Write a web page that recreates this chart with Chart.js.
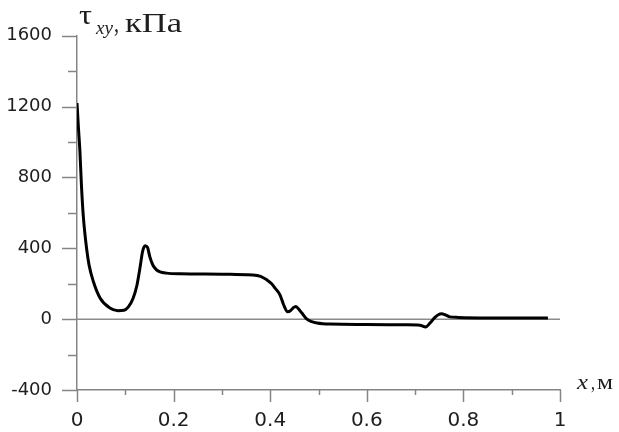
<!DOCTYPE html>
<html>
<head>
<meta charset="utf-8">
<script src="https://cdn.jsdelivr.net/npm/chart.js@4.4.1/dist/chart.umd.min.js"></script>
<style>
  html, body { margin: 0; padding: 0; background: #fff; }
  #wrap { width: 619px; height: 432px; }
</style>
</head>
<body>
<div id="wrap"><canvas id="graficoTau" width="619" height="432"></canvas></div>
<script>
// x, m
var xs = [0, 0.003, 0.006, 0.009, 0.013, 0.020, 0.025, 0.034, 0.048, 0.068, 0.085, 0.097, 0.106,
          0.116, 0.124, 0.130, 0.136, 0.141, 0.146, 0.151, 0.157, 0.164, 0.172, 0.185, 0.213,
          0.26, 0.30, 0.33, 0.35, 0.364, 0.380, 0.393, 0.403, 0.410, 0.420, 0.428, 0.436, 0.442,
          0.448, 0.453, 0.458, 0.466, 0.476, 0.486, 0.497, 0.524, 0.60, 0.68, 0.71, 0.722, 0.731,
          0.741, 0.748, 0.755, 0.762, 0.772, 0.789, 0.85, 0.975];
// tau_xy, kPa
var tau = [1220, 1080, 950, 767, 583, 396, 305, 211, 118, 63, 48, 50, 68,
           117, 190, 283, 385, 415, 405, 350, 306, 280, 267, 260, 256,
           255, 254, 252, 251, 250, 242, 222, 200, 175, 139, 80, 42, 48,
           65, 72, 60, 33, 0, -14, -22, -28, -30, -32, -34, -44, -22,
           10, 25, 30, 25, 13, 10, 7, 6];

var xMin = 0, xMax = 1, xStep = 0.1;
var yMin = -400, yMax = 1600, yStep = 200;

var puntos = xs.map(function (x, i) { return { x: x, y: tau[i] }; });
var cero = [{ x: xMin, y: 0 }, { x: xMax, y: 0 }];

var gris = '#858585';
var texto = '#1e1e1e';

// text stretched to a given width (the original labels are wide)
function textoAncho(ctx, str, x, y, font, w) {
    ctx.save();
    ctx.font = font;
    var m = ctx.measureText(str).width;
    ctx.translate(x, y);
    ctx.scale(w / m, 1);
    ctx.textAlign = 'left';
    ctx.textBaseline = 'alphabetic';
    ctx.fillStyle = texto;
    ctx.fillText(str, 0, 0);
    ctx.restore();
}

var marcas = {
    id: 'marcas',
    afterDraw: function (chart) {
        var c = chart.ctx;
        var sx = chart.scales.x, sy = chart.scales.y;
        var a = chart.chartArea;
        c.save();
        c.strokeStyle = gris;
        c.lineWidth = 1.5;
        sx.ticks.forEach(function (t) {
            var px = Math.round(sx.getPixelForValue(t.value)) + 0.5;
            var mayor = Math.round(t.value * 10) % 2 === 0;
            c.beginPath();
            c.moveTo(px, a.bottom);
            c.lineTo(px, a.bottom + (mayor ? 12 : 5));
            c.stroke();
        });
        sy.ticks.forEach(function (t) {
            var py = Math.round(sy.getPixelForValue(t.value)) + 0.5;
            var mayor = Math.round(t.value / 200) % 2 === 0;
            c.beginPath();
            c.moveTo(a.left, py);
            c.lineTo(a.left - (mayor ? 15 : 9), py);
            c.stroke();
        });
        c.restore();

        // titulos de ejes
        textoAncho(c, '\u03C4', 79, 24, '28px "Liberation Serif"', 13);
        textoAncho(c, 'xy', 96, 34, 'italic 19px "Liberation Serif"', 17);
        textoAncho(c, ',', 114, 32, '27px "Liberation Serif"', 5);
        textoAncho(c, '\u043A\u041F\u0430', 125, 32, '27px "Liberation Serif"', 57);

        textoAncho(c, 'x', 577, 389, 'italic 21px "Liberation Serif"', 11);
        textoAncho(c, ',', 591, 389, '21px "Liberation Serif"', 4);
        textoAncho(c, '\u043C', 597, 389, '21px "Liberation Serif"', 16);
    }
};

var ctxT = document.getElementById('graficoTau').getContext('2d');
var grafico = new Chart(ctxT, {
    type: 'line',
    data: {
        datasets: [{
            data: puntos,
            borderColor: '#000',
            borderWidth: 3,
            pointRadius: 0,
            fill: false,
            order: 1,
            cubicInterpolationMode: 'monotone'
        }, {
            data: cero,
            borderColor: '#8c8c8c',
            borderWidth: 1.5,
            pointRadius: 0,
            fill: false,
            order: 2
        }]
    },
    options: {
        responsive: false,
        animation: false,
        layout: { padding: { top: 30, right: 59, left: 0, bottom: 0 } },
        plugins: { legend: { display: false }, tooltip: { enabled: false } },
        scales: {
            x: {
                type: 'linear',
                min: xMin, max: xMax,
                afterFit: function (s) { s.height = 42; },
                grid: { display: false, drawTicks: false },
                border: { display: true, color: gris, width: 1.5 },
                ticks: {
                    stepSize: xStep,
                    autoSkip: false,
                    maxRotation: 0,
                    padding: 19,
                    color: texto,
                    font: { family: 'DejaVu Sans', size: 20 },
                    callback: function (v) {
                        return Math.round(v * 10) % 2 === 0 ? String(+v.toFixed(1)) : '';
                    }
                }
            },
            y: {
                min: yMin, max: yMax,
                afterFit: function (s) { s.width = 77; },
                grid: { display: false, drawTicks: false },
                border: { display: true, color: gris, width: 1.5 },
                ticks: {
                    stepSize: yStep,
                    autoSkip: false,
                    padding: 25,
                    color: texto,
                    font: { family: 'DejaVu Sans', size: 18 },
                    callback: function (v) {
                        return Math.round(v / 200) % 2 === 0 ? String(v) : '';
                    }
                }
            }
        }
    },
    plugins: [marcas]
});
</script>
</body>
</html>
